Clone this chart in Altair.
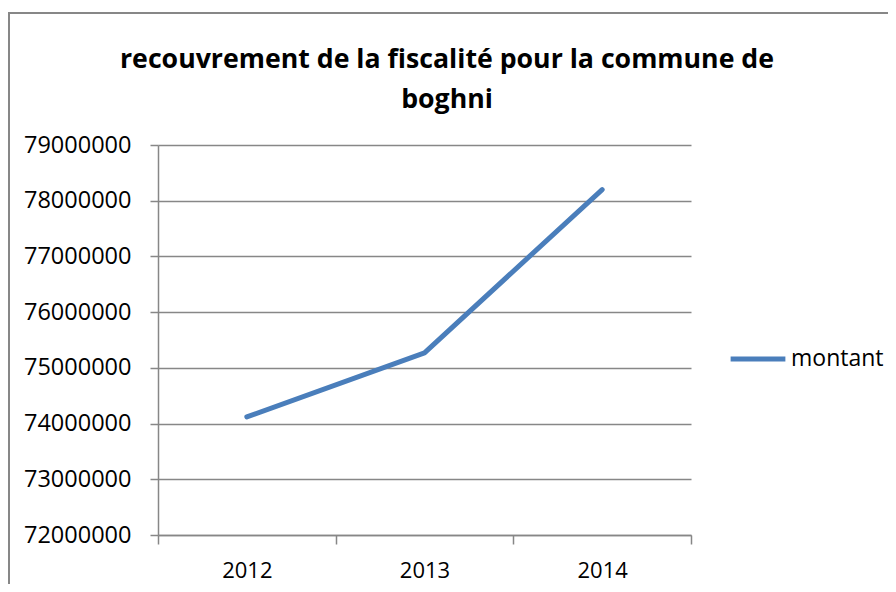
import altair as alt
import pandas as pd

years = ["2012", "2013", "2014"]
montant = [74120000, 75270000, 78200000]
series = ["montant", "montant", "montant"]
y_ticks = [72000000, 73000000, 74000000, 75000000, 76000000, 77000000, 78000000, 79000000]
title_line1 = "recouvrement de la fiscalité pour la commune de"
title_line2 = "boghni"

df = pd.DataFrame({"annee": years, "montant": montant, "serie": series})

GRID = "#878787"
FONT = "Open Sans"

line = alt.Chart(df).mark_line(strokeWidth=5, strokeCap="round", strokeJoin="round").encode(
    x=alt.X("annee:O", scale=alt.Scale(type="band", paddingInner=0, paddingOuter=0),
            axis=alt.Axis(title=None, labelAngle=0, tickBand="extent", tickSize=9,
                          labelPadding=16, grid=False)),
    y=alt.Y("montant:Q", scale=alt.Scale(domain=[72000000, 79000000], nice=False, zero=False),
            axis=alt.Axis(title=None, values=y_ticks, format="d", tickSize=8,
                          labelPadding=19, grid=True, labelFontSize=23.5)),
    color=alt.Color("serie:N", scale=alt.Scale(range=["#4A7EBB"]),
                    legend=alt.Legend(title=None, orient="none", legendX=570, legendY=184,
                                      symbolType="stroke", symbolSize=3000,
                                      symbolStrokeWidth=5, labelFontSize=23,
                                      labelFont=FONT, labelColor="#000000",
                                      labelOffset=3)),
)

one = pd.DataFrame({"k": [0]})

frame = alt.Chart(one).mark_rect(
    fill="transparent", stroke=GRID, strokeWidth=2
).encode(
    x=alt.value(-149), x2=alt.value(760), y=alt.value(-132), y2=alt.value(460)
)

t1 = alt.Chart(one).mark_text(
    text=title_line1, font=FONT, fontSize=26.7, fontWeight="bold", color="#000000",
    align="center", baseline="middle"
).encode(x=alt.value(289), y=alt.value(-85))

t2 = alt.Chart(one).mark_text(
    text=title_line2, font=FONT, fontSize=26.7, fontWeight="bold", color="#000000",
    align="center", baseline="middle"
).encode(x=alt.value(289), y=alt.value(-45))

chart = alt.layer(frame, t1, t2, line).properties(
    width=533, height=390,
    autosize=alt.AutoSizeParams(type="none"),
    padding={"left": 150, "top": 137, "right": 197, "bottom": 49},
).configure(
    background="#ffffff"
).configure_axis(
    domainColor=GRID, domainWidth=1.5, tickColor=GRID, tickWidth=1.5,
    gridColor=GRID, gridWidth=1.5, labelFont=FONT, labelFontSize=22,
    labelColor="#000000",
).configure_view(strokeWidth=0)

chart.save("out.html", embed_options={"renderer": "svg", "actions": False})
